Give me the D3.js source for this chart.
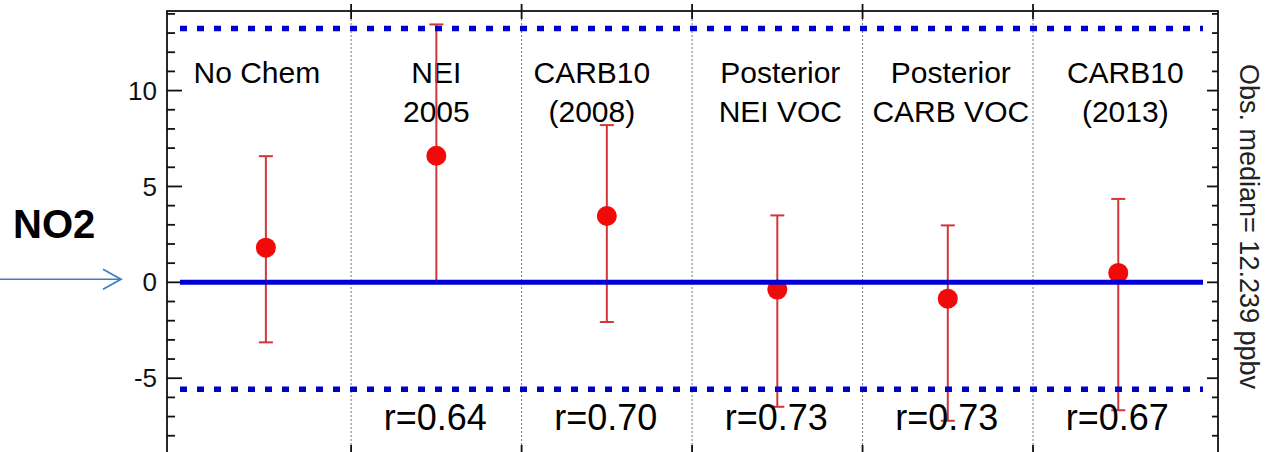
<!DOCTYPE html>
<html>
<head>
<meta charset="utf-8">
<script src="https://cdn.jsdelivr.net/npm/d3@7"></script>
<style>
  html, body { margin: 0; padding: 0; background: #fff; }
  svg { display: block; font-family: "Liberation Sans", Arial, sans-serif; }
</style>
</head>
<body>
<svg id="chart" width="1269" height="452"></svg>
<script>
// Model runs compared against observations (NO2 bias, ppbv)
const categories = ["No Chem", "NEI 2005", "CARB10 (2008)", "Posterior NEI VOC", "Posterior CARB VOC", "CARB10 (2013)"];
const labelLines = [["No Chem"], ["NEI", "2005"], ["CARB10", "(2008)"], ["Posterior", "NEI VOC"], ["Posterior", "CARB VOC"], ["CARB10", "(2013)"]];
const medianBias = [1.81, 6.60, 3.46, -0.38, -0.85, 0.49];
const upperBound = [6.58, 13.45, 8.20, 3.49, 2.97, 4.35];
const lowerBound = [-3.13, 0.05, -2.07, -6.49, -7.22, -6.67];
const correlation = [null, 0.64, 0.70, 0.73, 0.73, 0.67];
const yTicks = [-5, 0, 5, 10];
const yMinorTicks = d3.range(-8, 15, 1);
const rangeLines = [13.24, -5.57];
const obsMedian = 12.239;
const species = "NO2";

// layout
const plotLeft = 167, plotRight = 1218, plotTop = 11, plotBottom = 453;
const labelNudge = [-9, 0, -15, 3, 3, 7];

const svg = d3.select("#chart");
const x = d3.scaleLinear().domain([-0.58, 5.585]).range([plotLeft, plotRight]);
const y = d3.scaleLinear().domain([-8.9, 14.15]).range([plotBottom, plotTop]);
const idx = d3.range(categories.length);
const bounds = idx.slice(1).map(i => i - 0.5);

// dotted separators between runs
svg.append("g").selectAll("line").data(bounds).join("line")
  .attr("x1", d => x(d)).attr("x2", d => x(d))
  .attr("y1", plotTop).attr("y2", plotBottom)
  .attr("stroke", "#777").attr("stroke-width", 1)
  .attr("stroke-dasharray", "2,2");

// frame
svg.append("rect")
  .attr("x", plotLeft).attr("y", plotTop)
  .attr("width", plotRight - plotLeft).attr("height", plotBottom - plotTop)
  .attr("fill", "none").attr("stroke", "#111").attr("stroke-width", 1.8);

// y axes: ticks pointing inward
const majorSet = new Set(yTicks);
const tickG = svg.append("g").attr("stroke", "#111").attr("stroke-width", 1.8);
tickG.selectAll("line.l").data(yMinorTicks).join("line").attr("class", "l")
  .attr("x1", plotLeft).attr("x2", d => plotLeft + (majorSet.has(d) ? 15 : 8))
  .attr("y1", d => y(d)).attr("y2", d => y(d));
tickG.selectAll("line.r").data(yMinorTicks).join("line").attr("class", "r")
  .attr("x1", plotRight).attr("x2", d => plotRight - (majorSet.has(d) ? 11 : 6))
  .attr("y1", d => y(d)).attr("y2", d => y(d));
// x ticks at run boundaries, crossing the top and bottom frame
tickG.selectAll("line.t").data(bounds).join("line").attr("class", "t")
  .attr("x1", d => x(d)).attr("x2", d => x(d))
  .attr("y1", plotTop - 7).attr("y2", plotTop + 8);
tickG.selectAll("line.b").data(bounds).join("line").attr("class", "b")
  .attr("x1", d => x(d)).attr("x2", d => x(d))
  .attr("y1", plotBottom - 8).attr("y2", plotBottom + 7);

svg.append("g").selectAll("text").data(yTicks).join("text")
  .attr("x", plotLeft - 10).attr("y", d => y(d))
  .attr("dy", "0.35em").attr("text-anchor", "end")
  .attr("font-size", 26).attr("fill", "#111")
  .text(d => d);

// run labels
const lab = svg.append("g").attr("font-size", 30).attr("fill", "#000").attr("text-anchor", "middle");
idx.forEach(i => {
  labelLines[i].forEach((s, k) => {
    lab.append("text")
      .attr("x", x(i) + labelNudge[i]).attr("y", 83 + k * 39)
      .text(s);
  });
});

// spread of each run
const eb = svg.append("g").attr("stroke", "#d2363a").attr("stroke-width", 2);
eb.selectAll("line.v").data(idx).join("line").attr("class", "v")
  .attr("x1", i => x(i)).attr("x2", i => x(i))
  .attr("y1", i => y(upperBound[i])).attr("y2", i => y(lowerBound[i]));
eb.selectAll("line.u").data(idx).join("line").attr("class", "u")
  .attr("x1", i => x(i) - 7).attr("x2", i => x(i) + 7)
  .attr("y1", i => y(upperBound[i])).attr("y2", i => y(upperBound[i]));
eb.selectAll("line.d").data(idx).join("line").attr("class", "d")
  .attr("x1", i => x(i) - 7).attr("x2", i => x(i) + 7)
  .attr("y1", i => y(lowerBound[i])).attr("y2", i => y(lowerBound[i]));

svg.append("g").selectAll("circle").data(idx).join("circle")
  .attr("cx", i => x(i)).attr("cy", i => y(medianBias[i]))
  .attr("r", 10).attr("fill", "#f00a0a");

// zero-bias reference and observed range
svg.append("g").selectAll("line").data(rangeLines).join("line")
  .attr("x1", plotLeft + 13).attr("x2", plotRight - 15)
  .attr("y1", d => y(d)).attr("y2", d => y(d))
  .attr("stroke", "#0000cc").attr("stroke-width", 5.5)
  .attr("stroke-dasharray", "7,10");
svg.append("line")
  .attr("x1", plotLeft + 13).attr("x2", plotRight - 15)
  .attr("y1", y(0)).attr("y2", y(0))
  .attr("stroke", "#0000d4").attr("stroke-width", 5);

// correlation coefficients
svg.append("g").selectAll("text").data(idx.filter(i => correlation[i] !== null)).join("text")
  .attr("x", i => x(i) - 1).attr("y", 430)
  .attr("text-anchor", "middle").attr("font-size", 36).attr("fill", "#000")
  .text(i => "r=" + correlation[i].toFixed(2));

// right-hand note
svg.append("text")
  .attr("transform", "translate(1240,226.5) rotate(90)")
  .attr("text-anchor", "middle").attr("font-size", 27).attr("fill", "#222")
  .text("Obs. median= " + obsMedian + " ppbv");

// species label with pointer to zero line
svg.append("text")
  .attr("x", 13).attr("y", 238)
  .attr("font-size", 40).attr("font-weight", "bold").attr("fill", "#000")
  .text(species);
const arrowY = y(0) - 3;
svg.append("line")
  .attr("x1", 0).attr("x2", 121).attr("y1", arrowY).attr("y2", arrowY)
  .attr("stroke", "#3f7fc4").attr("stroke-width", 1.5);
svg.append("path")
  .attr("d", `M103,${arrowY - 10}L121,${arrowY}L103,${arrowY + 10}`)
  .attr("fill", "none").attr("stroke", "#3f7fc4").attr("stroke-width", 1.8);
</script>
</body>
</html>
